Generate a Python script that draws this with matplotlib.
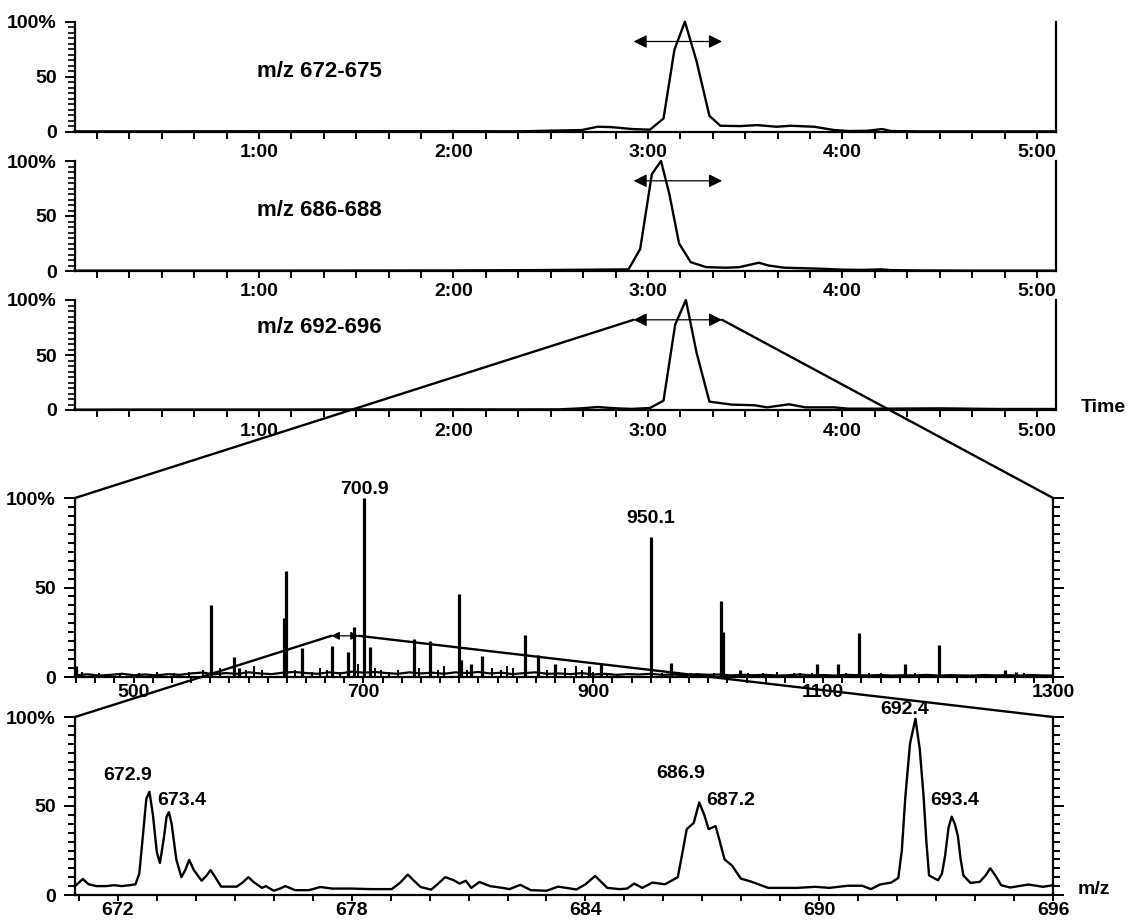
import matplotlib
matplotlib.use("Agg")
import matplotlib.pyplot as plt
import numpy as np
from matplotlib.ticker import MultipleLocator, FixedLocator, FuncFormatter, NullFormatter
from matplotlib.patches import ConnectionPatch

plt.rcParams['font.family'] = ['Liberation Sans', 'DejaVu Sans']
plt.rcParams['font.weight'] = 'bold'

# ion chromatograms: (time in min, relative intensity %)
chrom1 = [(0.05, 0.3), (0.5, 0.3), (1.0, 0.4), (1.5, 0.4), (2.0, 0.5), (2.33, 0.3), (2.52, 1.0),
          (2.66, 1.5), (2.74, 4.5), (2.81, 4.2), (2.92, 2.4), (3.01, 1.8), (3.08, 12), (3.136, 74.5),
          (3.19, 100), (3.25, 64), (3.316, 14.4), (3.372, 5.4), (3.474, 5.1), (3.563, 6.0),
          (3.66, 4.5), (3.734, 5.4), (3.855, 4.5), (3.957, 1.5), (4.03, 0.6), (4.125, 0.8),
          (4.204, 2.4), (4.25, 0.6), (4.4, 0.3), (4.8, 0.3), (5.09, 0.3)]
chrom2 = [(0.05, 0.3), (0.5, 0.3), (1.0, 0.3), (1.5, 0.4), (2.0, 0.5), (2.4, 0.8), (2.7, 1.2),
          (2.90, 1.5), (2.96, 20), (3.02, 88), (3.067, 100), (3.11, 70), (3.16, 25), (3.22, 8),
          (3.30, 3.5), (3.40, 3), (3.47, 3.5), (3.52, 5.5), (3.57, 7.5), (3.62, 5), (3.70, 3),
          (3.80, 2.5), (3.90, 2), (4.0, 1.2), (4.1, 1), (4.2, 1.5), (4.25, 0.8), (4.4, 0.5),
          (4.7, 0.3), (5.09, 0.3)]
chrom3 = [(0.05, 0.3), (0.5, 0.4), (1.0, 0.4), (1.5, 0.5), (2.0, 0.6), (2.3, 0.5), (2.545, 0.6),
          (2.656, 1.5), (2.74, 2.7), (2.84, 1.5), (2.916, 1.0), (3.01, 1.8), (3.08, 8.5),
          (3.14, 77.7), (3.195, 100), (3.25, 52), (3.316, 7.6), (3.43, 4.9), (3.548, 4.3),
          (3.613, 2.4), (3.725, 5.2), (3.81, 2.4), (3.957, 2.4), (4.03, 1.2), (4.22, 1.2),
          (4.5, 1.5), (4.8, 0.9), (5.09, 0.9)]
chrom_labels = ["m/z 672-675", "m/z 686-688", "m/z 692-696"]
label_y = [55, 55, 75]
time_ticks = [1, 2, 3, 4, 5]
window = (2.926, 3.381)

# full mass spectrum
peak_mz = [450, 567.1, 587.4, 591.9, 630.8, 633, 646.4, 672.7, 686.6, 691.5, 700.9, 706,
           743.7, 757.6, 783.2, 784.7, 794, 803.3, 840.6, 851.5, 866.8, 896, 906.8, 950.1,
           967.5, 1011, 1012.5, 1028, 1094.8, 1112.6, 1131.6, 1171, 1200.6, 1258, 1268]
peak_int = [6, 40, 11, 5, 33, 59.4, 16, 17.5, 14, 28, 100, 16.6, 21, 20, 46.5, 9.6, 7, 12,
            23.4, 12.4, 7.4, 6, 7.8, 78, 7.8, 42.6, 25, 3.7, 7.3, 7.4, 24.6, 7.4, 18, 4, 2.6]
minor_mz = [455, 470, 488, 505, 520, 535, 548, 560, 575, 598, 605, 612, 640, 655, 662, 668,
            680, 695, 710, 715, 722, 730, 748, 765, 770, 790, 812, 820, 825, 830, 860, 875,
            885, 890, 900, 912, 960, 975, 985, 1005, 1035, 1048, 1060, 1075, 1080, 1090,
            1120, 1140, 1150, 1180, 1210, 1235, 1275, 1285]
minor_int = [3, 2, 2, 2.5, 3, 2.5, 3, 4, 5, 4, 6, 4, 4, 3, 5, 4, 3, 7, 5, 4, 3, 4, 5, 4, 6,
             4, 5, 4, 6, 5, 4, 5, 6, 4, 3, 2, 2, 3, 2, 2.5, 2, 2, 3, 2.5, 2, 2, 2, 2.5, 2, 2,
             1.5, 1.5, 2, 1.5]
base_mz = list(range(450, 1301, 10))
base_int = [1.0, 1.5, 0.8, 1.2, 1.8, 1.0, 1.4, 0.9, 1.6, 1.2,
            2.0, 2.5, 1.5, 2.2, 1.8, 2.6, 2.0, 1.6, 2.4, 2.8,
            2.2, 1.8, 2.6, 2.0, 3.0, 2.4, 2.8, 2.2, 1.8, 2.6,
            2.0, 2.4, 1.8, 2.6, 2.2, 2.8, 2.0, 2.4, 1.6, 2.2,
            2.6, 1.8, 2.0, 1.6, 2.2, 1.4, 1.8, 1.2, 1.6, 1.4,
            1.8, 1.2, 1.4, 1.0, 1.6, 1.2, 1.4, 0.9, 1.2, 1.0,
            1.2, 0.8, 1.0, 1.4, 0.9, 1.1, 0.8, 1.2, 1.0, 0.9,
            1.1, 0.8, 1.0, 0.9, 1.2, 0.8, 1.0, 0.9, 0.8, 1.1,
            0.9, 1.0, 0.8, 1.1, 0.9, 0.8]
ms_ticks = [500, 700, 900, 1100, 1300]
ms_labels = [("700.9", 700.9, 104.5), ("950.1", 950.1, 84)]
zoom_range = (672, 696)

# zoomed spectrum 671-696
zoom_pts = [(670.9, 5), (671.1, 9), (671.25, 6), (671.45, 5), (671.7, 5), (671.9, 5.5),
            (672.1, 5), (672.3, 5.5), (672.45, 6), (672.55, 12), (672.65, 35), (672.73, 54),
            (672.81, 58), (672.9, 45), (673.0, 24), (673.08, 18), (673.18, 32), (673.25, 44),
            (673.31, 46.5), (673.38, 40), (673.5, 20), (673.63, 10), (673.73, 14), (673.83, 19.7),
            (673.95, 14), (674.15, 8), (674.28, 11), (674.38, 14), (674.5, 10), (674.65, 4.7),
            (675.05, 4.7), (675.2, 7), (675.35, 10), (675.5, 7), (675.7, 4), (675.8, 5),
            (676.0, 2.4), (676.15, 3.5), (676.3, 5), (676.55, 2.7), (676.9, 2.7), (677.2, 4.5),
            (677.5, 3.6), (678.0, 3.6), (678.5, 3.3), (679.03, 3.3), (679.25, 7), (679.44, 11.5),
            (679.6, 8), (679.77, 4.5), (680.04, 3), (680.2, 6), (680.4, 10), (680.6, 8.5),
            (680.77, 6.4), (680.93, 8), (681.07, 4), (681.28, 7.3), (681.55, 5), (681.87, 4),
            (682.05, 3.3), (682.33, 5.7), (682.6, 2.7), (683.0, 2.4), (683.3, 4.7), (683.77, 3.1),
            (684.0, 6), (684.25, 10.7), (684.56, 4), (684.88, 3.3), (685.07, 3.6), (685.25, 6.4),
            (685.46, 4), (685.72, 7), (686.04, 6), (686.37, 10), (686.5, 25), (686.6, 37),
            (686.78, 40.5), (686.92, 52), (687.05, 45), (687.16, 37), (687.34, 38.7), (687.45, 30),
            (687.57, 20), (687.76, 16.6), (687.99, 9.2), (688.27, 7.4), (688.69, 4), (689.43, 4),
            (689.9, 4.6), (690.26, 4), (690.73, 5.2), (691.1, 5.2), (691.33, 3.3), (691.56, 5.9),
            (691.85, 7), (692.03, 9.6), (692.12, 25), (692.21, 55), (692.33, 85), (692.47, 99),
            (692.58, 82), (692.68, 55), (692.75, 30), (692.82, 11), (693.05, 8.3), (693.15, 12),
            (693.23, 22), (693.32, 38), (693.40, 44), (693.48, 40), (693.56, 33), (693.63, 20),
            (693.7, 11), (693.88, 6.8), (694.12, 7.4), (694.27, 11), (694.39, 15), (694.52, 11),
            (694.67, 5.5), (694.9, 4.2), (695.37, 5.9), (695.74, 4.6), (696.0, 5.5)]
zoom_labels = [("672.9", 672.26, 67, 'center'), ("673.4", 673.0, 53, 'left'),
               ("686.9", 686.44, 68, 'center'), ("687.2", 687.1, 53, 'left'),
               ("692.4", 692.2, 104, 'center'), ("693.4", 692.85, 53, 'left')]
zoom_ticks = [672, 678, 684, 690, 696]

fig = plt.figure(figsize=(11.28, 9.23), dpi=100)
L = 75 / 1128
tops = [21.7, 161, 300]
chroms = [chrom1, chrom2, chrom3]
taxes = []
for i in range(3):
    ax = fig.add_axes([L, 1 - (tops[i] + 110) / 923, (1056 - 75) / 1128, 110 / 923])
    t, y = zip(*chroms[i])
    ax.plot(t, y, color='black', lw=1.7, clip_on=False)
    ax.set_xlim(0.054, 5.098)
    ax.set_ylim(0, 100)
    ax.spines['top'].set_visible(False)
    for s in ['left', 'bottom', 'right']:
        ax.spines[s].set_linewidth(1.6)
    ax.xaxis.set_major_locator(FixedLocator(time_ticks))
    ax.xaxis.set_minor_locator(MultipleLocator(1 / 6))
    ax.xaxis.set_major_formatter(FuncFormatter(lambda v, p: "%d:00" % round(v)))
    ax.yaxis.set_major_locator(FixedLocator([0, 50, 100]))
    ax.yaxis.set_minor_locator(MultipleLocator(5))
    ax.yaxis.set_major_formatter(FuncFormatter(lambda v, p: "100%" if v == 100 else "%d" % v))
    ax.tick_params(axis='x', which='both', direction='out', length=5, width=1.4, labelsize=14, pad=4)
    ax.tick_params(axis='y', which='major', direction='out', length=7, width=1.4, labelsize=14, pad=6)
    ax.tick_params(axis='y', which='minor', direction='out', length=5, width=1.2)
    ax.text(0.99, label_y[i], chrom_labels[i], fontsize=16, fontweight='bold', va='center', ha='left')
    ax.annotate('', xy=(window[1], 82), xytext=(window[0], 82),
                arrowprops=dict(arrowstyle='<|-|>', color='black', lw=0.9,
                                mutation_scale=20, shrinkA=0, shrinkB=0))
    taxes.append(ax)
taxes[2].text(1.025, 0.02, "Time", transform=taxes[2].transAxes, fontsize=14,
              fontweight='bold', va='center', ha='left')


def spec_axes(bottom_px, top_px):
    ax = fig.add_axes([L, 1 - bottom_px / 923, (1053 - 75) / 1128, (bottom_px - top_px) / 923])
    ax.set_ylim(0, 100)
    ax.spines['top'].set_visible(False)
    for s in ['left', 'bottom', 'right']:
        ax.spines[s].set_linewidth(1.6)
    ax.yaxis.set_major_locator(FixedLocator([0, 50, 100]))
    ax.yaxis.set_minor_locator(MultipleLocator(5))
    ax.yaxis.set_major_formatter(FuncFormatter(lambda v, p: "100%" if v == 100 else "%d" % v))
    ax.tick_params(axis='y', which='both', left=True, right=True, direction='out', width=1.4)
    ax.tick_params(axis='y', which='major', length=8, labelsize=14, pad=6)
    ax.tick_params(axis='y', which='minor', length=5)
    ax.tick_params(axis='x', which='both', direction='out', length=4, width=1.4, labelsize=14, pad=1)
    return ax


ax4 = spec_axes(677, 498)
ax4.set_xlim(449, 1300)
ax4.plot(base_mz, base_int, color='black', lw=1.6)
ax4.vlines(minor_mz, 0, minor_int, color='black', lw=1.4)
ax4.vlines(peak_mz, 0, peak_int, color='black', lw=2.3)
ax4.xaxis.set_major_locator(FixedLocator(ms_ticks))
ax4.xaxis.set_minor_locator(MultipleLocator(200 / 12))
for txt, x, y in ms_labels:
    ax4.text(x, y, txt, fontsize=14, fontweight='bold', ha='center', va='bottom' if y < 100 else 'center')
ax4.annotate('', xy=(zoom_range[1], 23), xytext=(zoom_range[0], 23),
             arrowprops=dict(arrowstyle='<|-|>', color='black', lw=0.9,
                             mutation_scale=12, shrinkA=0, shrinkB=0))

ax5 = spec_axes(895, 717)
ax5.set_xlim(670.9, 696)
zm, zi = zip(*zoom_pts)
ax5.plot(zm, zi, color='black', lw=1.7, clip_on=False)
ax5.xaxis.set_major_locator(FixedLocator(zoom_ticks))
ax5.xaxis.set_minor_locator(MultipleLocator(1))
for txt, x, y, ha in zoom_labels:
    ax5.text(x, y, txt, fontsize=14, fontweight='bold', ha=ha, va='center')
ax5.text(1.025, 0.03, "m/z", transform=ax5.transAxes, fontsize=14,
         fontweight='bold', va='center', ha='left')

# connecting lines
for xa, xb in [(window[0], 0), (window[1], 1)]:
    fig.add_artist(ConnectionPatch(xyA=(xa, 82), coordsA=taxes[2].transData,
                                   xyB=(xb, 1), coordsB=ax4.transAxes, color='black', lw=1.7))
for xa, xb in [(zoom_range[0], 0), (zoom_range[1], 1)]:
    fig.add_artist(ConnectionPatch(xyA=(xa, 23), coordsA=ax4.transData,
                                   xyB=(xb, 1), coordsB=ax5.transAxes, color='black', lw=1.7))

fig.savefig("out.png", dpi=100)
